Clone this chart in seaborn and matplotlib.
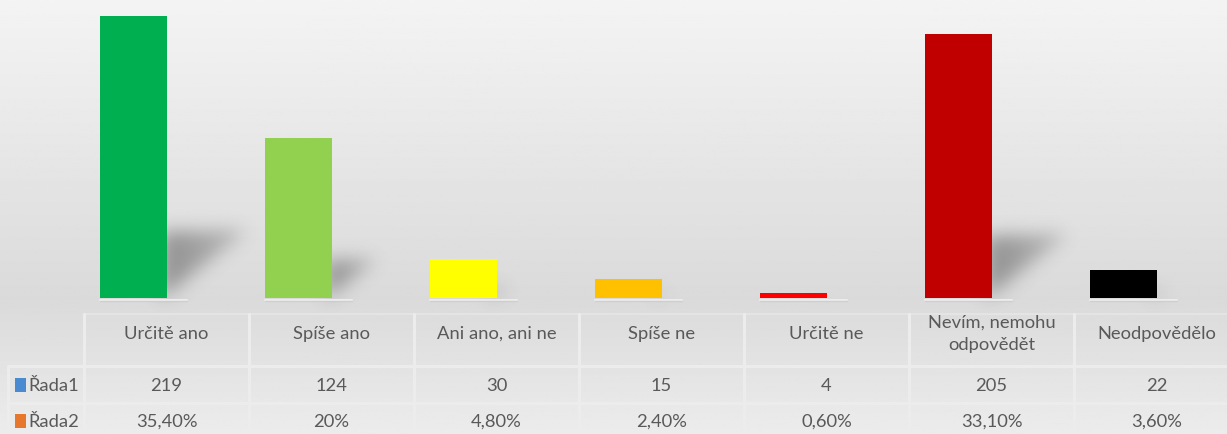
import numpy as np
import matplotlib
matplotlib.use("Agg")
import matplotlib.pyplot as plt
from matplotlib.patches import Rectangle
from matplotlib.path import Path
import seaborn as sns

# chart data
categories = ["Určitě ano", "Spíše ano", "Ani ano, ani ne", "Spíše ne",
              "Určitě ne", "Nevím, nemohu\nodpovědět", "Neodpovědělo"]
counts = [219, 124, 30, 15, 4, 205, 22]
shares = ["35,40%", "20%", "4,80%", "2,40%", "0,60%", "33,10%", "3,60%"]
series_names = ["Řada1", "Řada2"]
bar_colors = ["#00b050", "#92d050", "#ffff00", "#ffc000", "#ff0000", "#c00000", "#000000"]
key_colors = ["#4a8ad0", "#e8772e"]

W, H = 1227, 435
sns.set_theme(style="white")
plt.rcParams["font.family"] = ["Lato", "DejaVu Sans"]

fig = plt.figure(figsize=(W / 100, H / 100), dpi=100)

# background gradient over whole figure
bg = fig.add_axes([0, 0, 1, 1])
bg.set_axis_off()
yy = np.linspace(0, H, 200)
shade = np.interp(yy, [0, 300, 435], [0.955, 0.855, 0.925])
img = np.repeat(shade[:, None], 2, axis=1)
bg.imshow(img, cmap="gray", vmin=0, vmax=1, aspect="auto", extent=[0, W, H, 0])
bg.set_xlim(0, W)
bg.set_ylim(H, 0)

# bar axes, one column per category (last column is cut by the figure edge)
col_w = 165
x0 = 84
base_y = 299
ax = fig.add_axes([x0 / W, 1 - base_y / H, 7 * col_w / W, base_y / H])
ax.patch.set_alpha(0)
sns.barplot(x=list(range(len(counts))), y=counts, hue=list(range(len(counts))),
            palette=bar_colors, width=0.41, legend=False, saturation=1, ax=ax, zorder=3)
for p in ax.patches:
    p.set_x(p.get_x() - 0.2)
    p.set_linewidth(0)
ax.set_xlim(-0.5, 6.5)
ymax = base_y / (282 / 219)
ax.set_ylim(0, ymax)
ax.set_axis_off()

# blurred perspective shadows, built as a raster in pixel space
gx, gy = np.meshgrid(np.arange(W) + 0.5, np.arange(H) + 0.5)
pts = np.column_stack([gx.ravel(), gy.ravel()])
mask = np.zeros((H, W))
for p, v in zip(ax.patches, counts):
    xr, yb = ax.transData.transform((p.get_x() + p.get_width(), 0))
    _, yt = ax.transData.transform((0, v))
    yb, yt = H - yb, H - yt
    h = (yb - yt) * 0.235
    w = h * 1.22
    tri = Path([(xr - 6, yb), (xr - 6, yb - h), (xr + w, yb - h - 2), (xr - 6, yb)])
    inside = tri.contains_points(pts).reshape(H, W)
    fade = np.clip(1 - 0.5 * (gx - xr) / max(w, 1), 0.35, 1)
    mask = np.maximum(mask, inside * fade)

sig = 9.0
k = np.exp(-0.5 * (np.arange(-28, 29) / sig) ** 2)
k /= k.sum()
mask = np.apply_along_axis(lambda r: np.convolve(r, k, mode="same"), 1, mask)
mask = np.apply_along_axis(lambda c: np.convolve(c, k, mode="same"), 0, mask)
shadow = np.zeros((H, W, 4))
shadow[..., :3] = 0.25
shadow[..., 3] = np.clip(mask * 0.48, 0, 1)
bg.imshow(shadow, extent=[0, W, H, 0], aspect="auto", zorder=2)

# faint reflection under each bar
for p in ax.patches:
    xl, _ = ax.transData.transform((p.get_x(), 0))
    xr, _ = ax.transData.transform((p.get_x() + p.get_width(), 0))
    bg.plot([xl, xr + 20], [base_y + 1.5, base_y + 1.5], color="#ececec", lw=1.5, zorder=3)
    bg.plot([xl, xr + 20], [base_y + 3, base_y + 3], color="#c8c8c8", lw=1, alpha=0.6, zorder=3)

# data table drawn in pixel coordinates
line_c = "#ececec"
txt_c = "#595959"
rows = [305, 367, 404, H + 2]
for y in rows[1:3]:
    bg.plot([8, W], [y, y], color=line_c, lw=2.2)
bg.plot([x0, W], [rows[0] + 10, rows[0] + 10], color=line_c, lw=1.2, alpha=0.6)
for i in range(8):
    xv = x0 + i * col_w
    bg.plot([xv, xv], [rows[0] + 10, H], color=line_c, lw=2.2)
bg.plot([8, 8], [rows[1], H], color=line_c, lw=2.2)

for i, (c, n, s) in enumerate(zip(categories, counts, shares)):
    cx = x0 + (i + 0.5) * col_w
    bg.text(cx, 334, c, ha="center", va="center", fontsize=13.2, color=txt_c,
            linespacing=1.45)
    bg.text(cx, 386, str(n), ha="center", va="center", fontsize=13.2, color=txt_c)
    bg.text(cx, 422, s, ha="center", va="center", fontsize=13.2, color=txt_c)

for name, kc, ty in zip(series_names, key_colors, [386, 422]):
    bg.add_patch(Rectangle((15, ty - 7), 11, 14, facecolor=kc, lw=0))
    bg.text(28, ty, name, ha="left", va="center", fontsize=13.2, color=txt_c)

fig.savefig("out.png", dpi=100)
